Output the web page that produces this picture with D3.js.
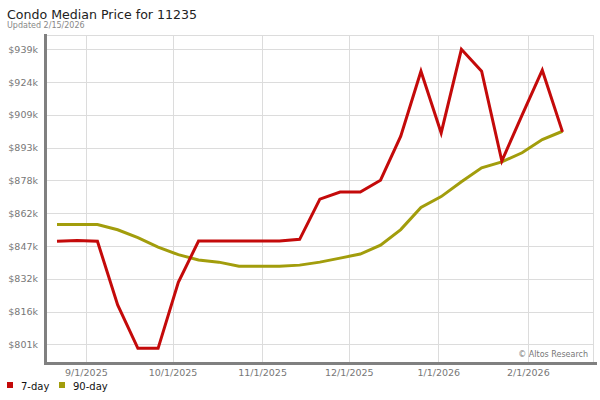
<!DOCTYPE html>
<html>
<head>
<meta charset="utf-8">
<script src="https://cdn.jsdelivr.net/npm/d3@7"></script>
<style>
  body { margin: 0; background: #fff; }
  text { font-family: "DejaVu Sans", sans-serif; }
</style>
</head>
<body>
<div id="chart"></div>
<script>
// weekly dates (Fridays)
const startDate = new Date(2025, 7, 22);
const weeks = 26;
const dates = d3.range(weeks).map(i => d3.timeDay.offset(startDate, i * 7));

// median price, thousands of $
const sevenDay = [849.2, 849.6, 849.2, 819.3, 798.9, 798.9, 829.9, 849.3, 849.3, 849.3,
                  849.3, 849.3, 850.1, 869.0, 872.3, 872.3, 877.9, 898.6, 929.1, 900.1,
                  939.4, 929.1, 886.9, 908.5, 929.6, 900.6];
const ninetyDay = [857.1, 857.1, 857.1, 854.6, 850.9, 846.5, 842.9, 840.4, 839.4, 837.5,
                   837.5, 837.5, 838.0, 839.4, 841.3, 843.2, 847.4, 854.7, 865.1, 870.2,
                   877.2, 883.7, 886.5, 890.8, 897.0, 900.9];

const yTicks = [800.8, 816.2, 831.6, 847.0, 862.4, 877.8, 893.2, 908.6, 924.0, 939.4];
const xTicks = [new Date(2025, 8, 1), new Date(2025, 9, 1), new Date(2025, 10, 1),
                new Date(2025, 11, 1), new Date(2026, 0, 1), new Date(2026, 1, 1)];

const series = [
  { name: '7-day', values: sevenDay, color: '#c40a0a' },
  { name: '90-day', values: ninetyDay, color: '#a29d0c' }
];

const width = 600, height = 400;
const plot = { left: 47, right: 593, top: 35, bottom: 362 };

const svg = d3.select('#chart').append('svg')
  .attr('width', width)
  .attr('height', height);

const x = d3.scaleTime()
  .domain([dates[0], dates[dates.length - 1]])
  .range([57, 562.5]);
const y = d3.scaleLinear()
  .domain([yTicks[0], yTicks[yTicks.length - 1]])
  .range([344.3, 49.3]);

// title
svg.append('text').attr('x', 7).attr('y', 19)
  .attr('font-size', 12.6).attr('fill', '#222')
  .text('Condo Median Price for 11235');
svg.append('text').attr('x', 7).attr('y', 28)
  .attr('font-size', 8).attr('fill', '#888')
  .text('Updated 2/15/2026');

// grid
const grid = svg.append('g').attr('stroke', '#dcdcdc').attr('stroke-width', 1);
grid.selectAll('.hg').data(yTicks).enter().append('line')
  .attr('x1', plot.left).attr('x2', plot.right)
  .attr('y1', d => Math.round(y(d)) + 0.5).attr('y2', d => Math.round(y(d)) + 0.5);
grid.selectAll('.vg').data(xTicks).enter().append('line')
  .attr('y1', plot.top).attr('y2', plot.bottom)
  .attr('x1', d => Math.round(x(d)) + 0.5).attr('x2', d => Math.round(x(d)) + 0.5);
grid.append('line').attr('x1', plot.left).attr('x2', plot.right)
  .attr('y1', plot.top + 0.5).attr('y2', plot.top + 0.5);
grid.append('line').attr('x1', plot.right + 0.5).attr('x2', plot.right + 0.5)
  .attr('y1', plot.top).attr('y2', plot.bottom);

// axis bars
svg.append('rect').attr('x', 44).attr('y', plot.top - 1)
  .attr('width', 3).attr('height', plot.bottom - plot.top + 4).attr('fill', '#808080');
svg.append('rect').attr('x', 44).attr('y', plot.bottom)
  .attr('width', 553).attr('height', 3).attr('fill', '#808080');

// axes labels
const yAxis = d3.axisLeft(y).tickValues(yTicks).tickSize(0).tickPadding(0)
  .tickFormat(d => `$${Math.round(d)}k`);
svg.append('g').attr('transform', 'translate(38,0)').call(yAxis)
  .call(g => g.select('.domain').remove())
  .selectAll('text').attr('font-size', 9.5).attr('fill', '#777')
  .attr('font-family', '"DejaVu Sans", sans-serif');

const xAxis = d3.axisBottom(x).tickValues(xTicks).tickSize(0).tickPadding(0)
  .tickFormat(d3.timeFormat('%-m/%-d/%Y'));
svg.append('g').attr('transform', 'translate(0,369)').call(xAxis)
  .call(g => g.select('.domain').remove())
  .selectAll('text').attr('font-size', 9.5).attr('fill', '#777')
  .attr('font-family', '"DejaVu Sans", sans-serif');

// lines
const line = d3.line()
  .x((d, i) => x(dates[i]))
  .y(d => y(d));
svg.selectAll('.series').data(series.slice().reverse()).enter().append('path')
  .attr('fill', 'none')
  .attr('stroke', d => d.color)
  .attr('stroke-width', 3)
  .attr('stroke-linejoin', 'miter')
  .attr('d', d => line(d.values));

// credit
svg.append('text').attr('x', 588).attr('y', 357)
  .attr('text-anchor', 'end').attr('font-size', 8).attr('fill', '#777')
  .text('© Altos Research');

// legend
const legend = svg.append('g').attr('transform', 'translate(7,388)');
const items = legend.selectAll('g').data(series).enter().append('g')
  .attr('transform', (d, i) => `translate(${i * 52},0)`);
items.append('rect').attr('x', 0).attr('y', -6).attr('width', 6).attr('height', 6)
  .attr('fill', d => d.color);
items.append('text').attr('x', 14).attr('y', 2)
  .attr('font-size', 10).attr('fill', '#111')
  .text(d => d.name);
</script>
</body>
</html>
